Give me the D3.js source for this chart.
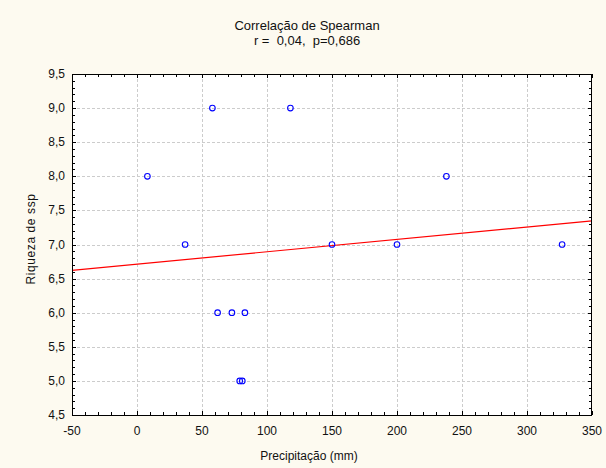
<!DOCTYPE html>
<html><head><meta charset="utf-8">
<script src="https://cdn.jsdelivr.net/npm/d3@7"></script>
<style>
html,body{margin:0;padding:0;background:#fdfaf0;}
svg{display:block;font-family:"Liberation Sans",Arial,sans-serif;}
text{white-space:pre;}
</style></head>
<body>
<script>
const precipitacao = [8, 37, 58, 118, 62, 73, 83, 79, 81, 150, 200, 238, 327];
const riqueza      = [8, 7, 9, 9, 6, 6, 6, 5, 5, 7, 7, 8, 7];
const xTicks = [-50, 0, 50, 100, 150, 200, 250, 300, 350];
const yTicks = [4.5, 5.0, 5.5, 6.0, 6.5, 7.0, 7.5, 8.0, 8.5, 9.0, 9.5];
const titleLines = ["Correlação de Spearman", "r =  0,04,  p=0,686"];
const xLabel = "Precipitação (mm)";
const yLabel = "Riqueza de ssp";

const W = 606, H = 468;
const m = {l: 72, r: 14, t: 74, b: 53};
const svg = d3.select("body").append("svg").attr("width", W).attr("height", H);
svg.append("rect").attr("width", W).attr("height", H).attr("fill", "#fdfaf0");

const x = d3.scaleLinear().domain([-50, 350]).range([m.l, W - m.r]);
const y = d3.scaleLinear().domain([4.5, 9.5]).range([H - m.b, m.t]);
const x0 = m.l, x1 = W - m.r, y0 = H - m.b, y1 = m.t;

svg.append("rect").attr("x", x0).attr("y", y1).attr("width", x1 - x0).attr("height", y0 - y1).attr("fill", "#fff");

// grid
const g = svg.append("g");
g.selectAll(".vg").data(xTicks.filter(d => d > -50 && d < 350)).join("line")
  .attr("x1", d => Math.round(x(d)) + 0.5).attr("x2", d => Math.round(x(d)) + 0.5)
  .attr("y1", y1).attr("y2", y0)
  .attr("stroke", "#cccccc").attr("stroke-dasharray", "3,2");
g.selectAll(".hg").data(yTicks.filter(d => d > 4.5 && d < 9.5)).join("line")
  .attr("y1", d => Math.round(y(d)) + 0.5).attr("y2", d => Math.round(y(d)) + 0.5)
  .attr("x1", x0).attr("x2", x1)
  .attr("stroke", "#cccccc").attr("stroke-dasharray", "3,2");

// regression line (OLS fit of the data)
const mx = d3.mean(precipitacao), my = d3.mean(riqueza);
const sxy = d3.sum(precipitacao, (v, i) => (v - mx) * (riqueza[i] - my));
const sxx = d3.sum(precipitacao, v => (v - mx) ** 2);
const slope = sxy / sxx, icpt = my - slope * mx;
const dom = x.domain();
svg.append("line")
  .attr("x1", x(dom[0])).attr("y1", y(icpt + slope * dom[0]))
  .attr("x2", x(dom[1])).attr("y2", y(icpt + slope * dom[1]))
  .attr("stroke", "#ff0000").attr("stroke-width", 1.2);

// points
svg.selectAll(".pt").data(precipitacao.map((v, i) => [v, riqueza[i]])).join("circle")
  .attr("cx", d => x(d[0])).attr("cy", d => y(d[1])).attr("r", 2.8)
  .attr("fill", "none").attr("stroke", "#0000ff").attr("stroke-width", 1.1);

// axes with inward ticks on all four sides
const fmt = d => d3.format(".1f")(d).replace(".", ",");
const xMinor = d3.range(-50, 351, 10);
const yMinor = d3.range(45, 96, 1).map(v => v / 10);
const ax = svg.append("g").attr("stroke", "#000").attr("stroke-width", 1);
xMinor.forEach(v => {
  const px = Math.round(x(v)) + 0.5;
  const len = (v % 50 === 0) ? 4 : 3;
  ax.append("line").attr("x1", px).attr("x2", px).attr("y1", y0).attr("y2", y0 - len);
  ax.append("line").attr("x1", px).attr("x2", px).attr("y1", y1).attr("y2", y1 + len);
});
yMinor.forEach(v => {
  const py = Math.round(y(v)) + 0.5;
  const len = (Math.round(v * 10) % 5 === 0) ? 4 : 3;
  ax.append("line").attr("y1", py).attr("y2", py).attr("x1", x0).attr("x2", x0 + len);
  ax.append("line").attr("y1", py).attr("y2", py).attr("x1", x1).attr("x2", x1 - len);
});
svg.append("rect").attr("x", x0 + 0.5).attr("y", y1 + 0.5).attr("width", x1 - x0 - 1).attr("height", y0 - y1)
  .attr("fill", "none").attr("stroke", "#000").attr("stroke-width", 1);

// tick labels
svg.selectAll(".xt").data(xTicks).join("text")
  .attr("x", d => x(d)).attr("y", y0 + 20).attr("text-anchor", "middle")
  .attr("font-size", 12).attr("fill", "#111").text(d => d);
svg.selectAll(".yt").data(yTicks).join("text")
  .attr("x", x0 - 7).attr("y", d => y(d) + 4).attr("text-anchor", "end")
  .attr("font-size", 12).attr("fill", "#111").text(fmt);

// titles
svg.selectAll(".tt").data(titleLines).join("text")
  .attr("x", 307).attr("y", (d, i) => 30 + i * 15).attr("text-anchor", "middle")
  .attr("font-size", 13).attr("fill", "#111").text(d => d);
svg.append("text").attr("x", 309).attr("y", 460).attr("text-anchor", "middle")
  .attr("font-size", 12).attr("fill", "#111").text(xLabel);
svg.append("text").attr("transform", "translate(35,239) rotate(-90)").attr("text-anchor", "middle")
  .attr("font-size", 12).attr("letter-spacing", 0.6).attr("fill", "#111").text(yLabel);
</script>
</body></html>
